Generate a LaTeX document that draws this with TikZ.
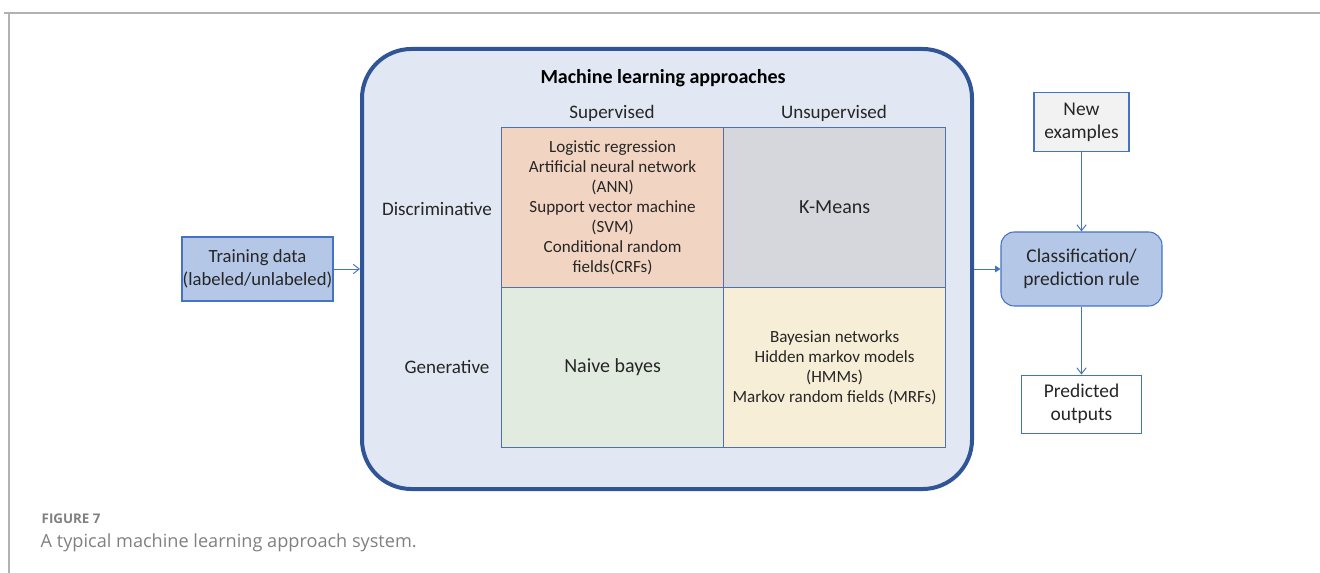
\documentclass[tikz,border=0pt]{standalone}
\usepackage{fontspec}
\setmainfont{Carlito}
\newfontfamily\capfont{Open Sans}
\usetikzlibrary{arrows.meta,positioning}

\definecolor{panelblue}{HTML}{2F5597}
\definecolor{panelfill}{HTML}{E1E7F3}
\definecolor{lineblue}{HTML}{4472C4}
\definecolor{boxfill}{HTML}{B4C7E7}
\definecolor{gridline}{HTML}{5270A8}
\definecolor{peach}{HTML}{F2D4C2}
\definecolor{slate}{HTML}{D6D7DC}
\definecolor{sage}{HTML}{E2EBDF}
\definecolor{cream}{HTML}{F6EED6}
\definecolor{ink}{HTML}{262626}
\definecolor{capgray}{HTML}{808080}

\begin{document}
\begin{tikzpicture}[
    x=0.75pt, y=-0.75pt,
    font=\fontsize{12.8}{15}\selectfont,
    text=ink,
    panel/.style={
        draw=panelblue,
        fill=panelfill,
        line width=3pt,
        rounded corners=37pt,
        minimum width=457.5pt,
        minimum height=330pt
    },
    cell/.style={
        draw=gridline,
        line width=0.9pt,
        anchor=north west,
        minimum width=166.5pt,
        minimum height=120pt,
        align=center,
        inner sep=2pt
    },
    bigtext/.style={font=\fontsize{15}{17}\selectfont},
    axislabel/.style={font=\fontsize{14.3}{17}\selectfont},
    blockbox/.style={
        draw=lineblue,
        fill=boxfill,
        line width=0.8pt,
        align=center,
        inner sep=0pt,
        font=\fontsize{14.6}{17}\selectfont
    },
    plainbox/.style={
        blockbox,
        fill=white
    },
    arr/.style={-{Straight Barb[length=4.5pt,width=7pt]}, lineblue, line width=0.7pt},
    frame/.style={draw=black!30, line width=0.9pt}
]
    \useasboundingbox (0,0) rectangle (1320,573);

    %% Rahmen der Abbildung
    \draw[frame] (4,13) -- (1320,13);
    \draw[frame] (9,13) -- (9,573);

    %% Panel mit den Verfahren
    \node[panel] (mla) at (667,269) {};
    \node[font=\fontsize{15}{18}\selectfont\bfseries, text=black] (title) at (663,78) {Machine learning approaches};
    \node[axislabel] (sup) at (612,113) {Supervised};
    \node[axislabel] (unsup) at (834,113) {Unsupervised};
    \node[axislabel] (disc) at (437,209) {Discriminative};
    \node[axislabel] (gen) at (447,367) {Generative};

    %% Vier Felder
    \node[cell, fill=peach] (discsup) at (501,127)
        {Logistic regression\\Artificial neural network\\(ANN)\\Support vector machine\\(SVM)\\Conditional random\\fields(CRFs)};
    \node[cell, bigtext, fill=slate] (discunsup) at (723,127) {K-Means};
    \node[cell, bigtext, fill=sage] (gensup) at (501,287) {Naive bayes};
    \node[cell, fill=cream] (genunsup) at (723,287)
        {Bayesian networks\\Hidden markov models\\(HMMs)\\Markov random fields (MRFs)};

    %% Eingabe
    \node[blockbox, font=\fontsize{14}{17}\selectfont, minimum width=113.25pt, minimum height=48pt] (train) at (257.5,269)
        {Training data\\(labeled/unlabeled)};

    %% Regel, neue Beispiele, Ausgabe
    \node[blockbox, rounded corners=10pt, minimum width=120.75pt, minimum height=55.5pt] (rule) at (1081.5,269)
        {Classification/\\prediction rule};
    \node[plainbox, fill=black!5, minimum width=71.25pt, minimum height=44.25pt, above=59.25pt of rule] (newex)
        {New\\examples};
    \node[plainbox, minimum width=90pt, minimum height=43.5pt, below=51pt of rule] (predout)
        {Predicted\\outputs};

    %% Pfeile
    \draw[arr] (train) -- (train -| mla.west);
    \draw[arr, -{Triangle[length=4pt,width=5pt]}] (rule -| mla.east) -- (rule);
    \draw[arr] (newex) -- (rule);
    \draw[arr] (rule) -- (predout);

    %% Bildunterschrift
    \node[anchor=west, text=capgray, font=\capfont\bfseries\fontsize{10}{12}\selectfont] (fignum) at (37,519) {FIGURE 7};
    \node[anchor=west, text=capgray, font=\capfont\fontsize{13.6}{16}\selectfont] (caption) at (36,543)
        {A typical machine learning approach system.};
\end{tikzpicture}
\end{document}
